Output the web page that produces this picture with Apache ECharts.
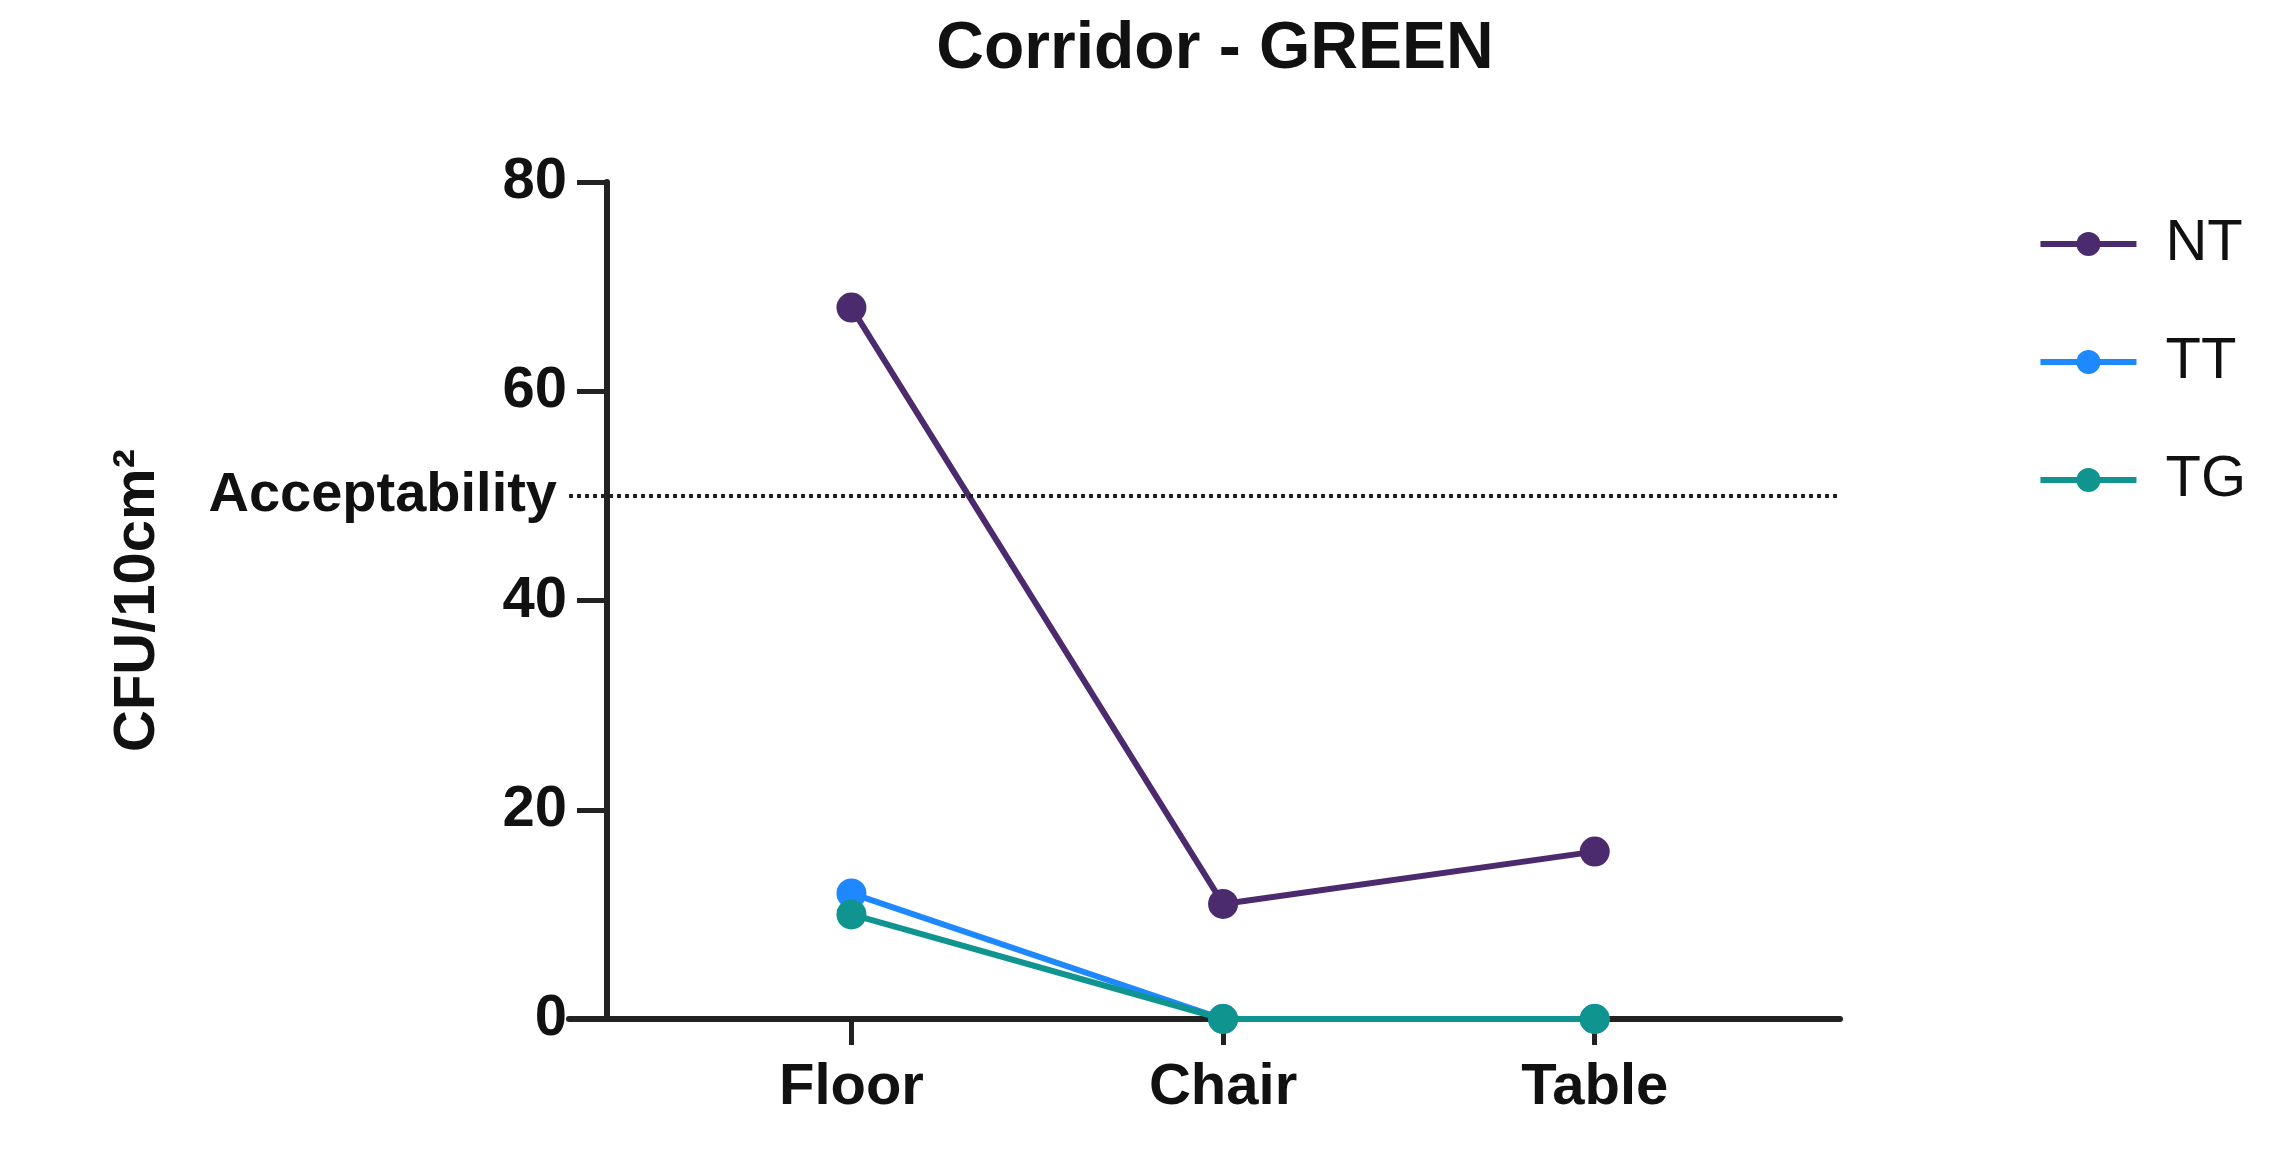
<!DOCTYPE html>
<html><head><meta charset="utf-8">
<script src="https://cdn.jsdelivr.net/npm/echarts@6/dist/echarts.min.js"></script>
<style>html,body{margin:0;background:#fff}#c{width:2291px;height:1165px}</style>
</head><body><div id="c"></div>
<script>
const categories = ['Floor', 'Chair', 'Table'];
const NT = [68, 11, 16];
const TT = [12, 0, 0];
const TG = [10, 0, 0];
const yTicks = [0, 20, 40, 60, 80];
const acceptability = 50;

const F = 'Liberation Sans, Arial, sans-serif';
const chart = echarts.init(document.getElementById('c'));
function mk(name, data, color, z) {
  return {
    name, type: 'line', z,
    data: data.map((v, i) => [i, v]),
    symbol: 'circle', symbolSize: 30,
    lineStyle: { color, width: 6 },
    itemStyle: { color }
  };
}
const series = [mk('NT', NT, '#4b2a6e', 3), mk('TT', TT, '#1e88ff', 4), mk('TG', TG, '#0f9490', 5)];
series[0].markLine = {
  silent: true, symbol: 'none',
  data: [{ yAxis: acceptability }],
  lineStyle: { color: '#222', type: [4, 4], width: 4 },
  label: { position: 'start', formatter: 'Acceptability', color: '#111', fontFamily: F, fontWeight: 'bold', fontSize: 56, distance: 12 }
};
chart.setOption({
  animation: false,
  title: { text: 'Corridor - GREEN', left: 1210, top: 12, textAlign: 'center',
    textStyle: { fontFamily: F, fontWeight: 'bold', fontSize: 66, color: '#111' } },
  legend: {
    right: 40, top: 210, orient: 'vertical', itemWidth: 96, itemHeight: 30, itemGap: 60,
    textStyle: { fontFamily: F, fontSize: 58, color: '#111', padding: [0, 0, 0, 24] },
    itemStyle: {}, lineStyle: { width: 6 },
    data: ['NT', 'TT', 'TG']
  },
  grid: { left: 569, right: 451, top: 182, bottom: 146 },
  xAxis: {
    type: 'value', min: -0.76, max: 2.66,
    splitLine: { show: false },
    axisLine: { lineStyle: { color: '#222', width: 6 } },
    axisTick: { customValues: [0, 1, 2], length: 26, lineStyle: { color: '#222', width: 5 } },
    axisLabel: { customValues: [0, 1, 2], formatter: v => categories[Math.round(v)], margin: 40,
      fontFamily: F, fontWeight: 'bold', fontSize: 58, color: '#111' }
  },
  yAxis: {
    type: 'value', min: 0, max: 80, interval: 20, offset: -38,
    name: 'CFU/10cm²', nameLocation: 'middle', nameGap: 440, nameRotate: 90,
    nameTextStyle: { fontFamily: F, fontWeight: 'bold', fontSize: 58, color: '#111' },
    splitLine: { show: false },
    axisLine: { show: true, onZero: false, lineStyle: { color: '#222', width: 6 } },
    axisTick: { show: true, length: 30, lineStyle: { color: '#222', width: 5 } },
    axisLabel: { formatter: v => yTicks.includes(v) ? String(v) : '', margin: 40,
      fontFamily: F, fontWeight: 'bold', fontSize: 58, color: '#111' }
  },
  series
});
</script></body></html>
